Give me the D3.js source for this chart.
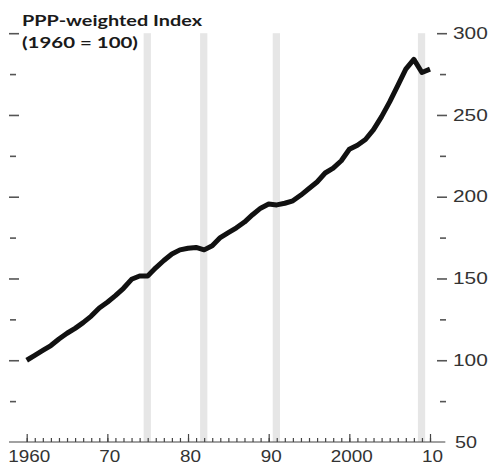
<!DOCTYPE html>
<html>
<head>
<meta charset="utf-8">
<script src="https://cdn.jsdelivr.net/npm/d3@7"></script>
<style>
  body { margin: 0; background: #fff; }
</style>
</head>
<body>
<div id="chart"></div>
<script>
// PPP-weighted index, 1960 = 100

const years = [1960, 1961, 1962, 1963, 1964, 1965, 1966, 1967, 1968, 1969,
               1970, 1971, 1972, 1973, 1974, 1975, 1976, 1977, 1978, 1979,
               1980, 1981, 1982, 1983, 1984, 1985, 1986, 1987, 1988, 1989,
               1990, 1991, 1992, 1993, 1994, 1995, 1996, 1997, 1998, 1999,
               2000, 2001, 2002, 2003, 2004, 2005, 2006, 2007, 2008, 2009, 2010];
const indexValues = [100, 103, 106, 109, 113, 116.5, 119.5, 123, 127, 132,
                     135.5, 139.5, 144, 149.5, 151.5, 151.5, 156.5, 161, 165, 167.5,
                     168.5, 169, 167.5, 170, 175, 178, 181, 184.5, 189, 193,
                     195.5, 195, 196, 197.5, 201, 205, 209, 214.5, 217.5, 222,
                     229, 231.5, 235, 241, 249, 258, 268, 278, 284, 276, 278];

// recession bands (start, end in years)
const recessions = [[1974.5, 1975.4], [1981.5, 1982.4], [1990.5, 1991.4], [2008.5, 2009.4]];

const xMajorTicks = [1960, 1970, 1980, 1990, 2000, 2010];
const xTickLabels = ["1960", "70", "80", "90", "2000", "10"];
const yMajorTicks = [50, 100, 150, 200, 250, 300];
const yMinorTicks = [75, 125, 175, 225, 275];

const width = 489;
const height = 464;

const svg = d3.select("#chart")
  .append("svg")
  .attr("width", width)
  .attr("height", height);

const xScale = d3.scaleLinear()
  .domain([1960, 2010])
  .range([26.7, 430]);

const yScale = d3.scaleLinear()
  .domain([50, 300])
  .range([442, 33.2]);

// shaded bands
svg.selectAll(".band")
  .data(recessions)
  .enter()
  .append("rect")
    .attr("class", "band")
    .attr("x", d => xScale(d[0]))
    .attr("width", d => xScale(d[1]) - xScale(d[0]))
    .attr("y", yScale(300))
    .attr("height", yScale(50) - yScale(300))
    .attr("fill", "#e6e6e6");

// x axis: baseline, yearly ticks, decade ticks
svg.append("line")
  .attr("x1", xScale(1957.8))
  .attr("x2", xScale(2011.9))
  .attr("y1", yScale(50))
  .attr("y2", yScale(50))
  .attr("stroke", "#444")
  .attr("stroke-width", 1.2);

const xMinor = svg.append("g")
  .attr("transform", `translate(0,${yScale(50)})`)
  .call(d3.axisBottom(xScale).tickValues(years).tickSize(-4).tickFormat(""));

const xMajor = svg.append("g")
  .attr("transform", `translate(0,${yScale(50)})`)
  .call(d3.axisBottom(xScale).tickValues(xMajorTicks).tickSize(-8)
    .tickFormat((d, i) => xTickLabels[i]));

[xMinor, xMajor].forEach(g => {
  g.select(".domain").remove();
  g.selectAll(".tick line").attr("stroke", "#444").attr("stroke-width", 1.2);
});

xMajor.selectAll(".tick text")
  .attr("y", 0)
  .attr("dy", 0)
  .attr("transform", "translate(2,20)")
  .attr("font-family", "'Liberation Sans', Arial, sans-serif")
  .attr("font-size", 16)
  .attr("fill", "#333")
  .attr("textLength", (d, i) => xTickLabels[i].length * 10.5)
  .attr("lengthAdjust", "spacingAndGlyphs");

// y ticks on both sides
function yTicks(x0, values, size, labels) {
  const g = svg.append("g")
    .attr("transform", `translate(${x0},0)`)
    .call(d3.axisRight(yScale).tickValues(values).tickSize(size).tickPadding(6));
  g.select(".domain").remove();
  g.selectAll(".tick line").attr("stroke", "#555").attr("stroke-width", 1.6);
  if (!labels) {
    g.selectAll(".tick text").remove();
  } else {
    g.selectAll(".tick text")
      .attr("font-family", "'Liberation Sans', Arial, sans-serif")
      .attr("font-size", 16)
      .attr("fill", "#333")
      .attr("textLength", d => String(d).length * 11.6)
      .attr("lengthAdjust", "spacingAndGlyphs");
  }
  return g;
}

yTicks(437, yMajorTicks.filter(d => d > 50), 10, true);
// the 50 label sits on the baseline
svg.append("text")
  .attr("x", 455)
  .attr("y", yScale(50) + 5.5)
  .attr("font-family", "'Liberation Sans', Arial, sans-serif")
  .attr("font-size", 16)
  .attr("fill", "#333")
  .attr("textLength", 22)
  .attr("lengthAdjust", "spacingAndGlyphs")
  .text("50");
yTicks(440, yMinorTicks, 6, false);
yTicks(9, yMajorTicks.filter(d => d > 50), 10, false);
yTicks(10, yMinorTicks, 6, false);

// the index line
const line = d3.line()
  .x((d, i) => xScale(years[i]))
  .y(d => yScale(d));

svg.append("path")
  .datum(indexValues)
  .attr("d", line)
  .attr("fill", "none")
  .attr("stroke", "#111")
  .attr("stroke-width", 5)
  .attr("stroke-linejoin", "round");

// title
const title = svg.append("text")
  .attr("font-family", "Lato, 'Open Sans', sans-serif")
  .attr("font-weight", 700)
  .attr("font-size", 16)
  .attr("fill", "#1a1a1a");

title.append("tspan")
  .attr("x", 22).attr("y", 26)
  .attr("textLength", 180).attr("lengthAdjust", "spacingAndGlyphs")
  .text("PPP-weighted Index");
title.append("tspan")
  .attr("x", 22).attr("y", 48)
  .attr("textLength", 116).attr("lengthAdjust", "spacingAndGlyphs")
  .text("(1960 = 100)");
</script>
</body>
</html>
